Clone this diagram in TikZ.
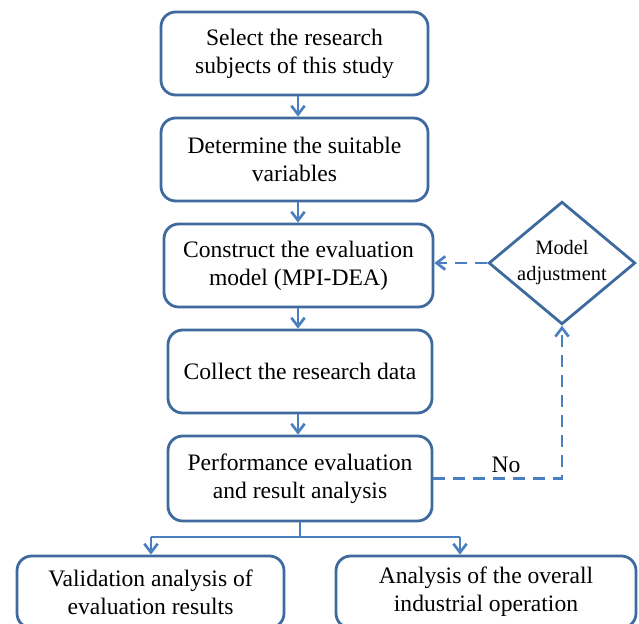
\documentclass[tikz,border=0pt]{standalone}
\usepackage{fontspec}
\setmainfont{Liberation Serif}
\usetikzlibrary{arrows.meta,shapes.geometric,calc}
\definecolor{boxblue}{RGB}{62,106,158}
\definecolor{arrblue}{RGB}{74,126,193}
\begin{document}
\begin{tikzpicture}[x=0.75pt,y=-0.75pt,
  mbox/.style={draw=boxblue,line width=2.1pt,rounded corners=11pt,align=center,
    font=\fontsize{17.7}{21}\selectfont,inner sep=0pt},
  conn/.style={draw=arrblue,line width=2pt},
  arr/.style={conn,-{Straight Barb[length=6.5pt,width=10pt,line width=2pt]}},
  dsh/.style={arr,dash pattern=on 9pt off 6pt}]
\useasboundingbox (0,0) rectangle (639,624);
\clip (0,0) rectangle (639,624);
\node[mbox,minimum width=200.25pt,minimum height=62.25pt] (b1) at (294.5,53.5) {Select the research\\subjects of this study};
\node[mbox,minimum width=200.25pt,minimum height=62.25pt] (b2) at (294.5,159.5) {Determine the suitable\\variables};
\node[mbox,minimum width=201.75pt,minimum height=62.25pt] (b3) at (298.5,265.5) {Construct the evaluation\\model (MPI-DEA)};
\node[mbox,minimum width=198pt,minimum height=62.25pt] (b4) at (300,371.5) {Collect the research data};
\node[mbox,minimum width=198pt,minimum height=63.75pt] (b5) at (300,478.5) {Performance evaluation\\and result analysis};
\node[mbox,minimum width=200.25pt,minimum height=54pt] (bl) at (150.5,592) {Validation analysis of\\evaluation results};
\node[mbox,minimum width=225pt,minimum height=54pt] (br) at (486,592) {Analysis of the overall\\industrial operation};
\node[draw=boxblue,line width=2.1pt,diamond,aspect=1.2,minimum width=110pt,minimum height=92pt,
  inner sep=0pt,align=center,font=\fontsize{15.3}{19.5}\selectfont] (d) at (562,263) {Model\\adjustment};
\coordinate (ax) at (298,0);
\draw[arr] (b1.south -| ax) -- (b2.north -| ax);
\draw[arr] (b2.south -| ax) -- (b3.north -| ax);
\draw[arr] (b3.south -| ax) -- (b4.north -| ax);
\draw[arr] (b4.south -| ax) -- (b5.north -| ax);
\draw[dsh] (d.west) -- (b3.east |- d.west);
\coordinate (nc) at (d.south |- b5.east);
\draw[dsh] (b5.east) -- (nc) -- (d.south);
\node[font=\fontsize{17.7}{21}\selectfont] (no) at (506,465) {No};
\coordinate (jl) at (151,537);
\coordinate (jr) at (460,537);
\draw[conn] (b5.south) -- (b5.south |- jl);
\draw[conn] (jl) -- (jr);
\draw[arr] (jl) -- (jl |- bl.north);
\draw[arr] (jr) -- (jr |- br.north);
\end{tikzpicture}
\end{document}
